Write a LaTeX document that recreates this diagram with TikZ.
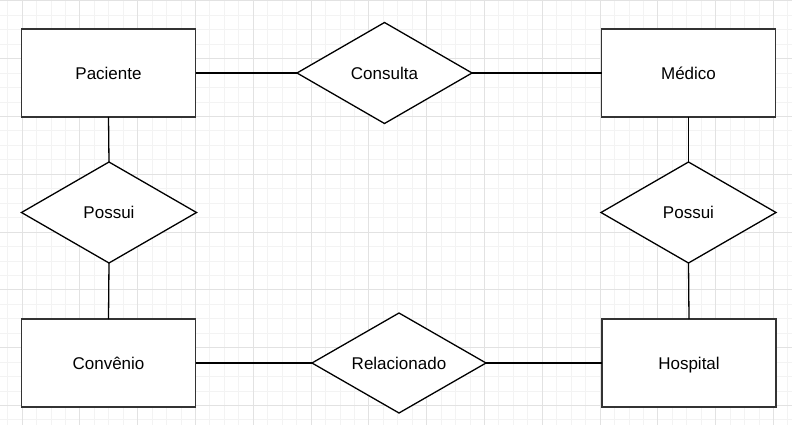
\documentclass[tikz,border=0pt]{standalone}
\usepackage{fontspec}
\setmainfont{Liberation Sans}
\usetikzlibrary{shapes.geometric}
\definecolor{minorgrid}{RGB}{243,243,243}
\definecolor{majorgrid}{RGB}{226,226,226}
\definecolor{boxline}{RGB}{51,51,51}
\tikzset{
  entity/.style={draw=boxline, line width=1.6pt, fill=white, rectangle, inner sep=0pt, outer sep=0pt,
    minimum width=174pt, minimum height=88pt, font=\fontsize{17}{20}\selectfont,
    text height=12.5pt, text depth=0pt},
  relation/.style={draw=black, line width=1.3pt, fill=white, diamond, aspect=1.75, inner sep=0pt, outer sep=0pt,
    minimum width=175pt, minimum height=101pt, font=\fontsize{17}{20}\selectfont,
    text height=12.5pt, text depth=0pt},
  link/.style={draw=black, line width=1.3pt},
  minorline/.style={draw=minorgrid, line width=1pt},
  majorline/.style={draw=majorgrid, line width=1pt}
}
\begin{document}
\begin{tikzpicture}[x=1pt,y=-1pt]
\useasboundingbox (0,0) rectangle (792,425);
\fill[white] (0,0) rectangle (792,425);
% grid
\foreach \k in {-1,...,54} {
  \pgfmathsetmacro{\gx}{22.1+\k*14.45}
  \draw[minorline] (\gx,0) -- (\gx,425);
}
\foreach \k in {-2,...,29} {
  \pgfmathsetmacro{\gy}{29.8+\k*14.45}
  \draw[minorline] (0,\gy) -- (792,\gy);
}
\foreach \k in {0,...,13} {
  \pgfmathsetmacro{\gx}{22.1+\k*57.8}
  \draw[majorline] (\gx,0) -- (\gx,425);
}
\foreach \k in {0,...,7} {
  \pgfmathsetmacro{\gy}{0.9+\k*57.8}
  \draw[majorline] (0,\gy) -- (792,\gy);
}
% nodes
\node[entity] (paciente) at (108.5,73) {Paciente};
\node[entity] (medico) at (688.5,73) {Médico};
\node[entity] (convenio) at (108.5,363) {Convênio};
\node[entity] (hospital) at (689,363) {Hospital};
\node[relation] (consulta) at (384.5,73) {Consulta};
\node[relation] (possuiL) at (109,212.5) {Possui};
\node[relation] (possuiR) at (688.5,212.5) {Possui};
\node[relation, minimum width=174pt, minimum height=100pt] (relacionado) at (399,363) {Relacionado};
% connectors
\draw[link] (paciente.east) -- (consulta.west);
\draw[link] (consulta.east) -- (medico.west);
\draw[link] (paciente.south) -- (possuiL.north);
\draw[link] (possuiL.south) -- (convenio.north);
\draw[link] (medico.south) -- (possuiR.north);
\draw[link] (possuiR.south) -- (hospital.north);
\draw[link] (convenio.east) -- (relacionado.west);
\draw[link] (relacionado.east) -- (hospital.west);
\end{tikzpicture}
\end{document}
